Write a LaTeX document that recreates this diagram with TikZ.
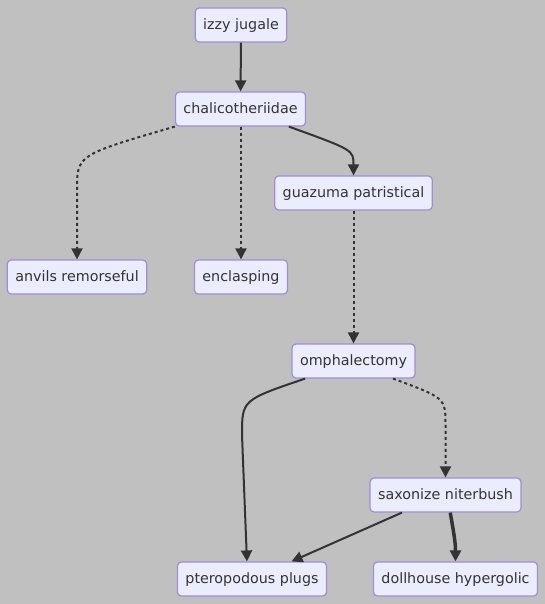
\documentclass[tikz,border=0pt]{standalone}
\usepackage{fontspec}
\setmainfont{DejaVu Sans}
\usepackage{tikz}
\usetikzlibrary{arrows.meta}
\definecolor{bggray}{HTML}{C0C0C0}
\definecolor{boxfill}{HTML}{ECECFF}
\definecolor{boxline}{HTML}{A08DD8}
\definecolor{ink}{HTML}{333333}

\begin{document}
\begin{tikzpicture}[x=1pt,y=1pt,
  box/.style={draw=boxline, fill=boxfill, line width=1.2pt, rounded corners=4pt,
    inner xsep=8pt, inner ysep=0pt, minimum height=34pt, text height=12pt, text depth=2.4pt,
    text=ink, font=\fontsize{14.3}{16}\selectfont},
  link/.style={draw=ink, line width=2pt, -{Triangle[length=11pt,width=11pt]}},
  dotlink/.style={link, dash pattern=on 3pt off 3pt},
  thicklink/.style={link, line width=3.5pt}]
  \fill[bggray] (0,0) rectangle (545,-604);
  \useasboundingbox (0,0) rectangle (545,-604);

  % nodes
  \node[box] (izzy) at (241,-25) {izzy jugale};
  \node[box] (chal) at (240.5,-109) {chalicotheriidae};
  \node[box] (guaz) at (353.5,-193) {guazuma patristical};
  \node[box] (anv)  at (77,-277) {anvils remorseful};
  \node[box] (encl) at (241,-277) {enclasping};
  \node[box] (omph) at (353.5,-361) {omphalectomy};
  \node[box] (sax)  at (445.5,-495) {saxonize niterbush};
  \node[box] (pter) at (252,-579) {pteropodous plugs};
  \node[box] (doll) at (455.5,-579) {dollhouse hypergolic};

  % edges
  \draw[link] (izzy) -- (chal);
  \draw[dotlink] (chal.south west) .. controls (77,-155) .. (77,-190) -- (anv);
  \draw[dotlink] (chal.south -| encl) -- (encl);
  \draw[link] (chal.-20) .. controls (353.5,-150) .. (guaz.north);
  \draw[dotlink] (guaz) -- (omph);
  \draw[link] (omph.-160) .. controls (242,-400) .. (242,-435) -- (pter.106);
  \draw[dotlink] (omph.-24) .. controls (445.5,-398) .. (445.5,-425) -- (sax);
  \draw[link] (sax.-158) -- (pter.24);
  \draw[thicklink] (sax.-75) to[out=-80,in=90] (doll.north);
\end{tikzpicture}
\end{document}
